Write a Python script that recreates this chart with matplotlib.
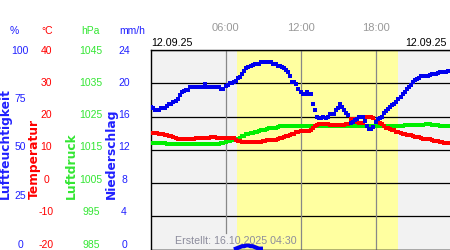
import numpy as np
import matplotlib.pyplot as plt

plt.rcParams["font.family"] = ["Liberation Sans", "DejaVu Sans"]

# 10-Minuten-Werte vom 12.09.25, 00:00 bis 23:50
humidity = [
    71.5, 70.7, 70.0, 69.7, 69.7, 71.0, 71.0, 71.0, 72.0, 72.7, 72.7, 74.0,
    74.4, 75.5, 77.5, 78.7, 79.5, 80.2, 80.2, 81.6, 81.6, 81.6, 81.6, 81.6,
    81.6, 81.6, 82.8, 81.6, 81.6, 81.6, 81.6, 81.6, 81.6, 81.6, 80.7, 80.7,
    81.9, 82.5, 83.3, 83.3, 84.0, 84.4, 85.8, 86.5, 88.0, 89.4, 90.8, 91.5,
    92.0, 92.5, 93.0, 93.0, 93.0, 94.0, 94.0, 94.0, 94.0, 94.0, 94.0, 93.0,
    93.0, 91.8, 91.8, 91.3, 90.8, 90.0, 89.1, 86.9, 84.0, 83.9, 82.8, 80.7,
    79.0, 77.9, 77.9, 78.9, 77.9, 77.7, 72.7, 69.7, 66.3, 65.7, 65.7, 66.3,
    65.7, 66.3, 67.8, 67.8, 67.8, 69.7, 71.0, 72.7, 71.2, 69.7, 68.2, 67.3,
    63.2, 64.0, 64.8, 65.5, 66.5, 66.5, 66.5, 64.5, 62.0, 60.3, 60.3, 61.5,
    64.0, 65.3, 66.0, 66.5, 68.2, 69.3, 70.4, 71.5, 72.2, 73.0, 73.7, 75.2,
    76.5, 77.8, 79.0, 80.5, 81.6, 82.6, 83.8, 85.0, 85.5, 86.2, 86.9, 86.9,
    86.9, 86.9, 87.3, 87.9, 87.9, 87.9, 88.3, 89.1, 89.1, 89.1, 89.1, 89.6,
]
temperature = [
    14.9, 14.9, 14.9, 14.9, 14.8, 14.8, 14.8, 14.5, 14.4, 14.1, 14.0, 13.8,
    13.4, 13.3, 13.1, 13.1, 13.1, 13.1, 13.1, 13.1, 13.1, 13.2, 13.4, 13.4,
    13.4, 13.4, 13.4, 13.4, 13.5, 13.7, 13.7, 13.7, 13.4, 13.4, 13.4, 13.5,
    13.6, 13.6, 13.4, 13.4, 13.4, 13.0, 12.6, 12.6, 12.3, 12.2, 12.2, 12.2,
    12.2, 12.2, 12.2, 12.2, 12.2, 12.4, 12.6, 12.6, 12.8, 12.9, 12.9, 13.0,
    13.0, 13.2, 13.4, 13.4, 13.7, 14.0, 14.1, 14.4, 14.7, 14.7, 15.2, 15.4,
    15.5, 15.6, 15.6, 15.6, 15.6, 16.0, 16.5, 17.1, 17.5, 17.8, 17.8, 17.8,
    17.8, 17.6, 17.4, 17.4, 17.4, 17.4, 17.4, 17.4, 17.4, 17.4, 17.6, 17.7,
    19.1, 19.1, 18.7, 18.3, 17.9, 17.9, 17.9, 18.5, 19.9, 19.9, 19.9, 19.4,
    18.6, 18.6, 17.9, 17.6, 17.2, 16.6, 16.6, 16.3, 16.0, 16.0, 15.4, 15.4,
    15.1, 14.8, 14.6, 14.3, 14.3, 14.3, 14.1, 13.8, 13.8, 13.8, 13.6, 13.2,
    13.2, 13.2, 13.2, 12.9, 12.6, 12.6, 12.6, 12.4, 12.2, 11.9, 11.9, 11.9,
]
pressure = [
    1016.9, 1016.9, 1016.9, 1017.0, 1017.0, 1017.0, 1017.0, 1017.0, 1016.8, 1016.8, 1016.7, 1016.7,
    1016.6, 1016.6, 1016.6, 1016.6, 1016.6, 1016.6, 1016.6, 1016.6, 1016.6, 1016.6, 1016.6, 1016.6,
    1016.6, 1016.6, 1016.6, 1016.6, 1016.6, 1016.6, 1016.6, 1016.6, 1016.6, 1016.6, 1016.9, 1017.0,
    1017.4, 1017.6, 1017.6, 1017.9, 1018.2, 1018.2, 1018.3, 1018.6, 1019.0, 1019.2, 1019.6, 1019.8,
    1020.0, 1020.1, 1020.4, 1020.4, 1020.6, 1020.9, 1020.9, 1020.9, 1021.2, 1021.4, 1021.5, 1021.5,
    1021.5, 1021.7, 1022.0, 1022.1, 1022.1, 1022.1, 1022.1, 1022.1, 1022.1, 1022.1, 1022.1, 1022.1,
    1022.1, 1022.1, 1022.1, 1022.1, 1022.1, 1022.1, 1022.1, 1022.1, 1022.1, 1022.1, 1022.1, 1022.1,
    1022.1, 1022.1, 1022.1, 1022.1, 1022.1, 1022.1, 1022.1, 1022.1, 1022.1, 1022.1, 1022.1, 1022.1,
    1022.0, 1022.0, 1022.2, 1022.2, 1022.2, 1022.2, 1022.2, 1022.2, 1022.2, 1022.2, 1022.2, 1022.2,
    1022.2, 1022.2, 1022.2, 1022.2, 1022.2, 1022.2, 1022.2, 1022.2, 1022.2, 1022.2, 1022.2, 1022.2,
    1022.2, 1022.2, 1022.3, 1022.5, 1022.5, 1022.5, 1022.5, 1022.5, 1022.4, 1022.3, 1022.4, 1022.5,
    1022.6, 1022.6, 1022.6, 1022.4, 1022.3, 1022.3, 1022.3, 1022.2, 1022.0, 1022.0, 1022.0, 1022.0,
]
rain_hours = [6.83, 7.0, 7.17, 7.33, 7.5, 7.67, 7.83, 8.0, 8.17, 8.33, 8.5, 8.67, 8.83]
rain = [0.1, 0.2, 0.3, 0.4, 0.4, 0.5, 0.5, 0.4, 0.4, 0.3, 0.2, 0.1, 0.1]

hum_ticks = [100, 75, 50, 25, 0]
temp_ticks = [40, 30, 20, 10, 0, -10, -20]
pres_ticks = [1045, 1035, 1025, 1015, 1005, 995, 985]
rain_ticks = [24, 20, 16, 12, 8, 4, 0]
time_hours = [6, 12, 18]
time_labels = ["06:00", "12:00", "18:00"]
daylight = (6.88, 19.8)

BLUE = "#0000ee"
RED = "#ff0000"
GREEN = "#00ee00"
TXT_BLUE = "#2020ff"
TXT_GREEN = "#33e633"

hours = np.arange(len(humidity)) / 6

W, H = 450, 250
fig = plt.figure(figsize=(W / 100, H / 100), dpi=100)


def fx(x):
    return x / W


def fy(y):
    return 1 - y / H


# Grundachse: Hintergrund, Tag/Nacht, Gitter
ax = fig.add_axes([fx(150.5), fy(249.5), 300 / W, 199.5 / H])
ax.set_facecolor("#f2f2f2")
ax.set_xlim(0, 24)
ax.set_ylim(0, 6)
ax.axvspan(*daylight, color="#ffffa0", lw=0)
ax.set_yticks(range(7))
ax.grid(axis="y", color="black", lw=0.9)
ax.axvline(time_hours[0], ymin=0.085, color="#888888", lw=0.9)
for h in time_hours[1:]:
    ax.axvline(h, color="#888888", lw=0.9)
ax.set_xticks(time_hours, time_labels)
ax.tick_params(axis="y", length=0, labelleft=False)
ax.tick_params(axis="x", length=0, bottom=False, labelbottom=False,
               top=True, labeltop=True, pad=12, labelsize=8, labelcolor="#999999")
for side in ["left", "top", "bottom"]:
    ax.spines[side].set_color("black")
    ax.spines[side].set_linewidth(1.0)
ax.spines["right"].set_visible(False)


def twin(lo, hi):
    t = ax.twinx()
    t.set_ylim(lo, hi)
    t.set_yticks([])
    for s in t.spines.values():
        s.set_visible(False)
    return t


ax_p = twin(985, 1045)
ax_p.plot(hours, pressure, ls="none", marker="s", ms=2.5, mew=0, color=GREEN)
ax_t = twin(-20, 40)
ax_t.plot(hours, temperature, ls="none", marker="s", ms=2.5, mew=0, color=RED)
ax_r = twin(0, 24)
ax_r.plot(rain_hours, rain, color=BLUE, lw=3)
ax_h = twin(0, 100)
ax_h.plot(hours, humidity, ls="none", marker="s", ms=2.2, mew=0, color=BLUE)

# linke Skalen
cols = [
    ("%", 14, 20, hum_ticks, TXT_BLUE),
    ("°C", 47, 46.5, temp_ticks, RED),
    ("hPa", 90, 91, pres_ticks, TXT_GREEN),
    ("mm/h", 132, 124, rain_ticks, TXT_BLUE),
]
for unit, ux, tx, ticks, col in cols:
    fig.text(fx(ux), fy(31), unit, color=col, ha="center", va="center", fontsize=7.5)
    top, bot = ticks[0], ticks[-1]
    for v in ticks:
        y = 50.5 + (top - v) / (top - bot) * 194
        fig.text(fx(tx), fy(y), str(v), color=col, ha="center", va="center", fontsize=7.5)

names = [("Luftfeuchtigkeit", 5.5, TXT_BLUE), ("Temperatur", 34.5, RED),
         ("Luftdruck", 71.5, TXT_GREEN), ("Niederschlag", 111.5, TXT_BLUE)]
for name, x, col in names:
    fig.text(fx(x), fy(199), name, rotation=90, ha="center", va="bottom",
             color=col, fontsize=8.8, family="DejaVu Sans", weight="bold")

fig.text(fx(151), fy(43), "12.09.25", ha="left", va="center", fontsize=7.7)
fig.text(fx(447), fy(43), "12.09.25", ha="right", va="center", fontsize=7.7)
fig.text(fx(175), fy(241), "Erstellt: 16.10.2025 04:30", ha="left", va="center",
         fontsize=7.7, color="#8c8c9c")

fig.savefig("out.png", dpi=100)
